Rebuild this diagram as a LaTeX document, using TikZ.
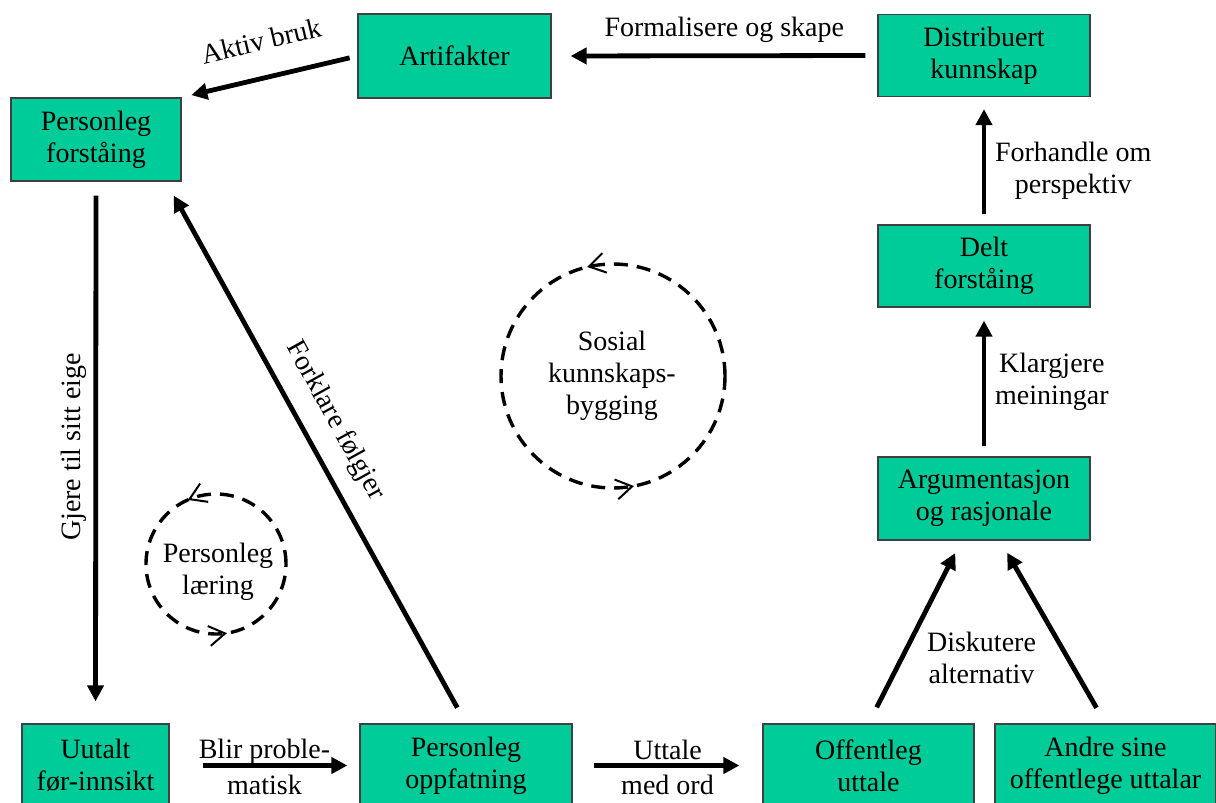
\documentclass[tikz,border=0pt]{standalone}
\usepackage{fontspec}
\setmainfont{Liberation Serif}
\usepackage{tikz}
\definecolor{boxgreen}{HTML}{00CC99}
\usetikzlibrary{positioning, arrows.meta, decorations.markings}
\tikzstyle{arrow} = [line width=2.4pt,->,>={Triangle[length=8pt,width=8pt]}]
\tikzset{looptips/.style 2 args={postaction={decorate, decoration={markings,
    mark=at position #1 with {\arrow{Straight Barb[length=8pt,width=10pt,line width=1pt]}},
    mark=at position #2 with {\arrow{Straight Barb[length=8pt,width=10pt,line width=1pt]}}}}}}

\begin{document}
\begin{tikzpicture}[x=0.5pt,y=0.5pt]
                    \tikzstyle{every node}=[font=\fontsize{14}{16}\selectfont]
                    \tikzstyle{box} = [rectangle, draw=black!75, line width=0.6pt, fill=boxgreen, align=center, minimum width=106pt, minimum height=41.5pt, inner sep=0pt]
                    \tikzstyle{lbl} = [align=center]
                    \tikzstyle{loopline} = [line width=1.7pt, dash pattern=on 7pt off 4.5pt]

                    \useasboundingbox (0,0) rectangle (1216,-803);
                    \clip (0,0) rectangle (1216,-803);

                    % boxes
                    \node[box, minimum width=96.5pt, minimum height=42pt](art) at (454.5,-56) {Artifakter};
                    \node[box, minimum height=41pt](dist) at (984,-55.5) {Distribuert\\kunnskap};
                    \node[box, minimum width=85pt](pf) at (96,-139.5) {Personleg\\forståing};
                    \node[box, minimum height=41pt](delt) at (984,-266) {Delt\\forståing};
                    \node[box](arg) at (984,-498.5) {Argumentasjon\\og rasjonale};
                    \node[box, minimum width=73.5pt](uut) at (95.5,-765.5) {Uutalt\\før-innsikt};
                    \node[box](po) at (466,-765.5) {Personleg\\oppfatning};
                    \node[box, minimum width=105.5pt](off) at (868.5,-765.5) {Offentleg\\uttale};
                    \node[box, minimum width=110.5pt](andre) at (1105.5,-765.5) {Andre sine\\offentlege uttalar};

                    % the two loops
                    \node[lbl](pl) at (218,-572) {Personleg\\læring};
                    \draw[loopline, looptips={0.316}{0.775}] (216,-564) circle (70);
                    \node[lbl](skb) at (612,-376) {Sosial\\kunnskaps-\\bygging};
                    \draw[loopline, looptips={0.287}{0.78}] (613,-376) circle (112);

                    % connectors
                    \draw[arrow, shorten <=4pt, shorten >=5pt] (art.west) -- (pf.north east) node[midway, sloped, above=9pt] {Aktiv bruk};
                    \draw[arrow, shorten <=6pt, shorten >=9.5pt] (dist.west) -- (art.east) node[pos=0.47, above=2pt] {Formalisere og skape};
                    \draw[arrow, shorten <=5pt, shorten >=6pt] (delt.north) -- (dist.south) node[pos=0.42, right=1pt, lbl] {Forhandle om\\perspektiv};
                    \draw[arrow, shorten <=5pt, shorten >=6.5pt] (arg.north) -- (delt.south) node[midway, right=1pt, lbl] {Klargjere\\meiningar};
                    \draw[arrow, shorten <=9pt, shorten >=7pt] (off.north) -- (arg.242) node[pos=0.36, right=8pt, lbl] {Diskutere\\alternativ};
                    \draw[arrow, shorten <=9pt, shorten >=7pt] (andre.north) -- (arg.291);
                    \draw[arrow, shorten <=16.5pt, shorten >=6pt] (uut.east) -- (po.west) node[midway, above=-4pt] {Blir proble-} node[midway, below=0pt] {matisk};
                    \draw[arrow, shorten <=10.5pt, shorten >=11.5pt] (po.east) -- (off.west) node[midway, above=-1.5pt] {Uttale} node[midway, below=0pt] {med ord};
                    \draw[arrow, shorten <=7pt, shorten >=11pt] (pf.south) -- (uut.north) node[pos=0.49, anchor=south, rotate=90] {Gjere til sitt eige};
                    \draw[arrow, shorten <=9pt, shorten >=8pt] (po.north) -- (pf.329) node[pos=0.53, sloped, above=5pt] {Forklare følgjer};

\end{tikzpicture}
\end{document}
